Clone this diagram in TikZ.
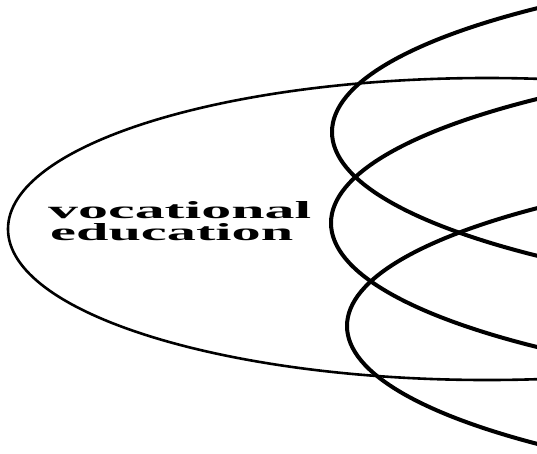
\documentclass[tikz,border=0pt]{standalone}
\usepackage{fontspec}
\setmainfont{Liberation Serif}
\usepackage{graphicx}
\begin{document}
\begin{tikzpicture}[x=1pt,y=-1pt,
  bigring/.style={line width=2.6pt,black},
  ring/.style={line width=4pt,black},
  lbl/.style={inner sep=0pt,anchor=north west,align=left}]
\path[use as bounding box] (0,0) rectangle (537,453);
\clip (0,0) rectangle (537,453);
\fill[white] (0,0) rectangle (537,453);
\draw[bigring] (487,229) ellipse [x radius=479pt, y radius=151pt];
\draw[ring] (1032,132) ellipse [x radius=700pt, y radius=175pt];
\draw[ring] (1031,223) ellipse [x radius=700pt, y radius=175pt];
\draw[ring] (1047,326) ellipse [x radius=700pt, y radius=172pt];
\node[lbl] (txt) at (48,201) {\resizebox{263pt}{17pt}{\bfseries vocational}\\[4pt]\hspace*{2pt}\resizebox{243pt}{17pt}{\bfseries education}};
\end{tikzpicture}
\end{document}
